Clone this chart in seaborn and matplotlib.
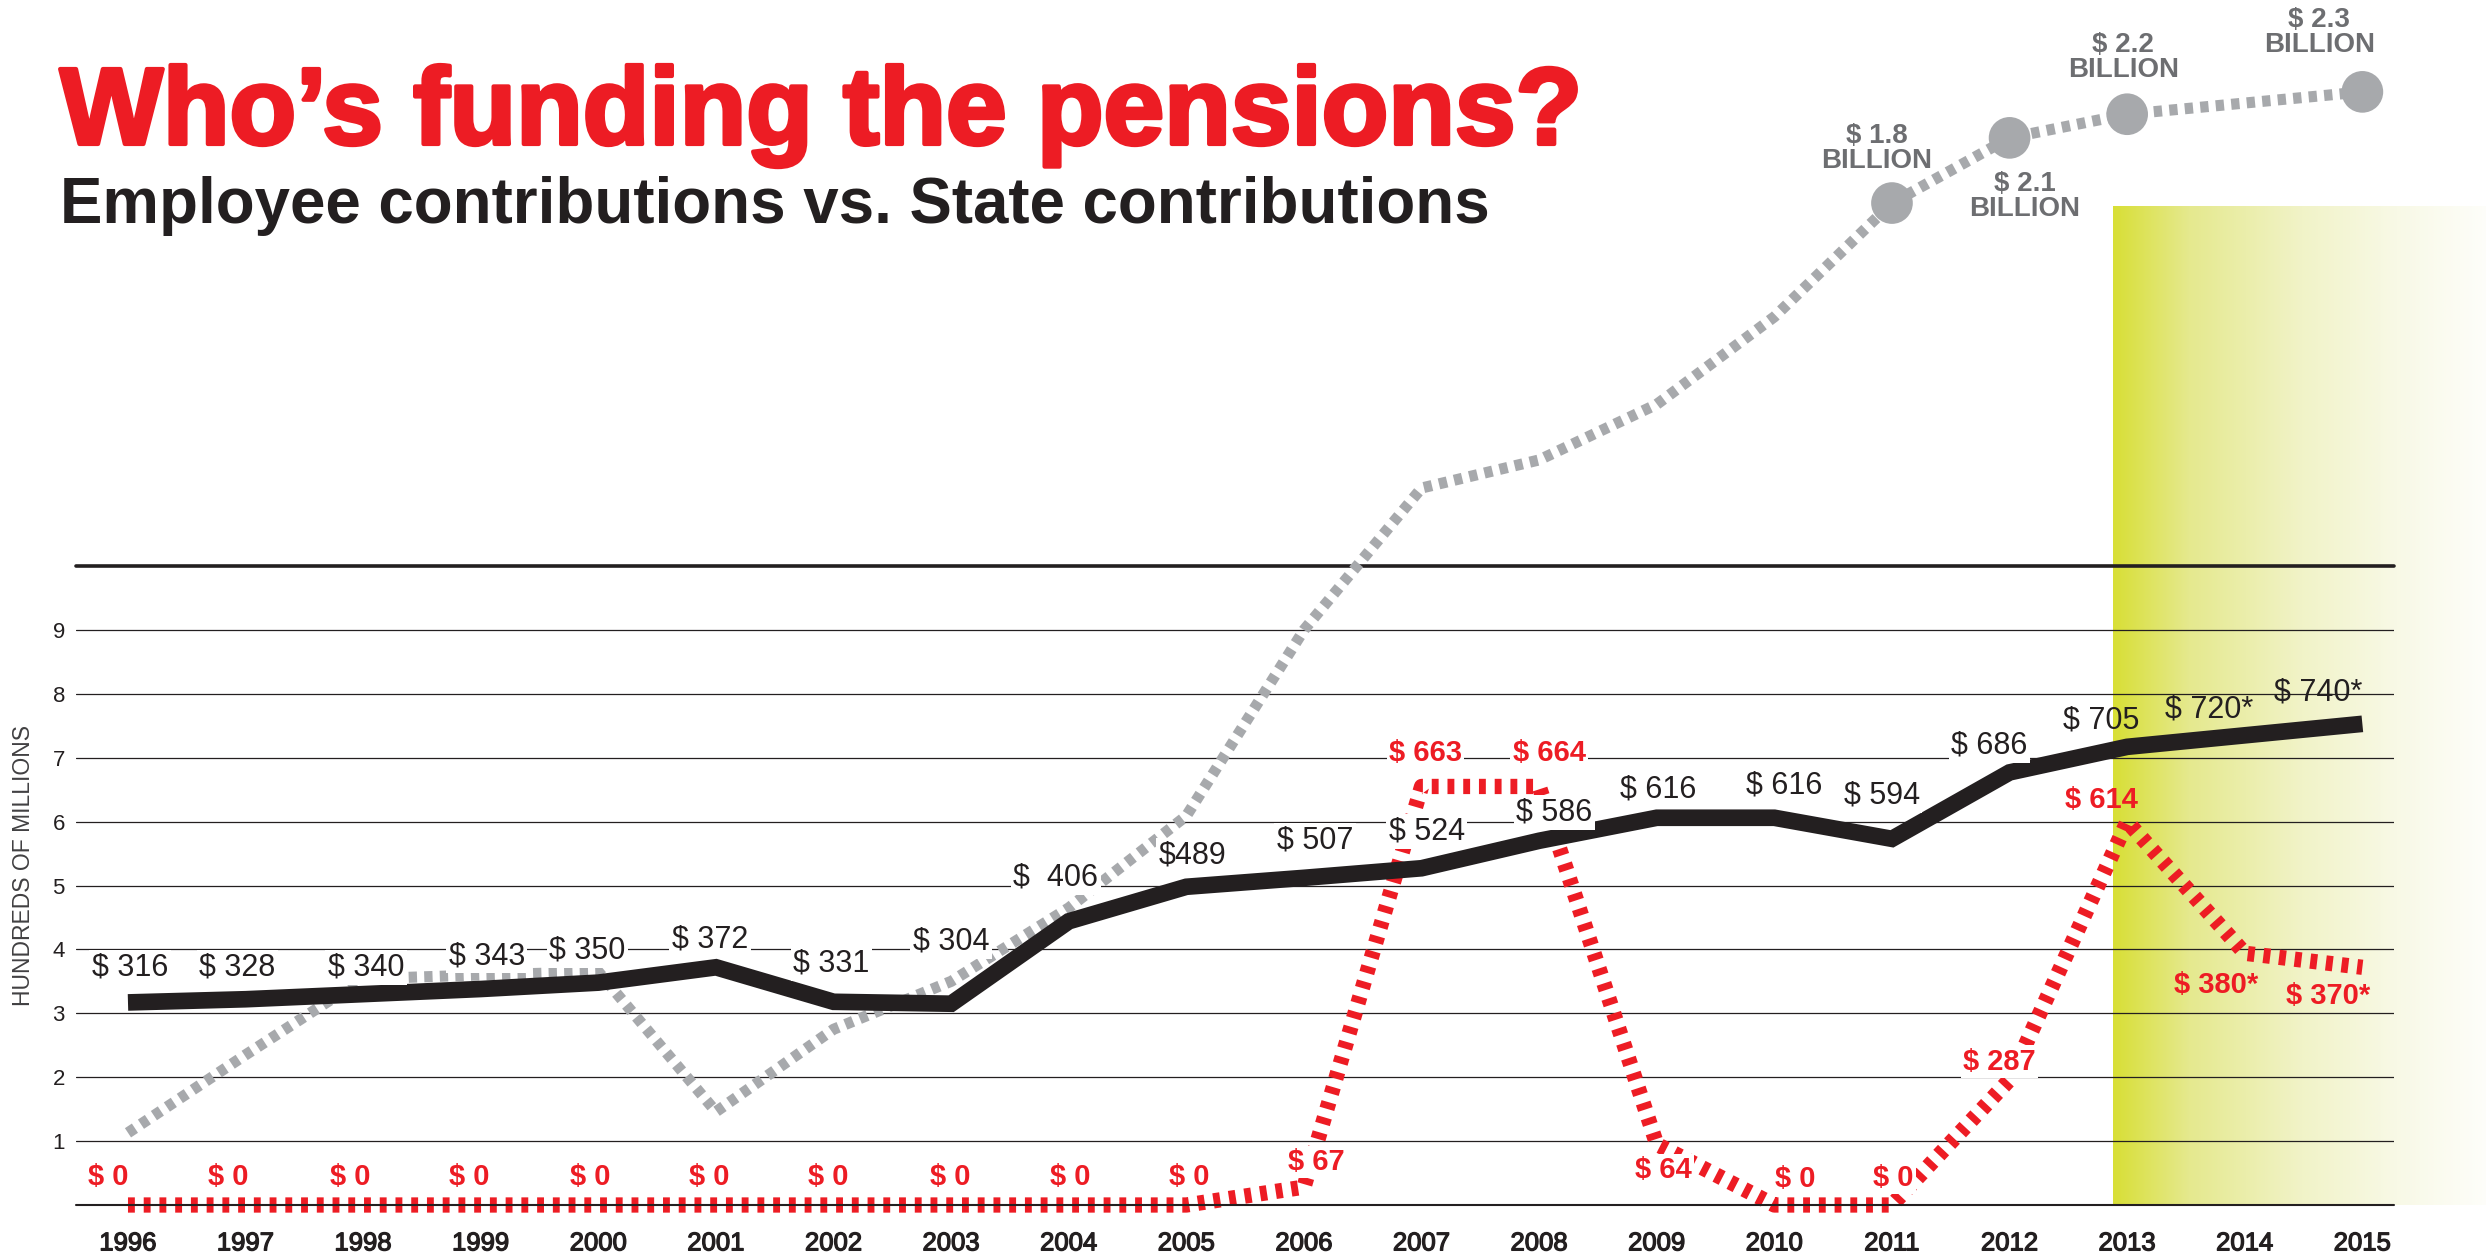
import numpy as np
import pandas as pd
import matplotlib
matplotlib.use("Agg")
import matplotlib.pyplot as plt
import matplotlib.patheffects as pe
from matplotlib.colors import LinearSegmentedColormap
import seaborn as sns

# ---------------- data (hundreds of millions) ----------------
years = list(range(1996, 2016))
employee = [3.17, 3.22, 3.30, 3.38, 3.48, 3.72, 3.18, 3.15, 4.44, 4.98,
            5.12, 5.27, 5.70, 6.06, 6.06, 5.73, 6.77, 7.17, 7.35, 7.53]
employee_labels = ["$ 316", "$ 328", "$ 340", "$ 343", "$ 350", "$ 372", "$ 331",
                   "$ 304", "$  406", "$489", "$ 507", "$ 524", "$ 586", "$ 616",
                   "$ 616", "$ 594", "$ 686", "$ 705", "$ 720*", "$ 740*"]
state = [0, 0, 0, 0, 0, 0, 0, 0, 0, 0,
         0.28, 6.55, 6.55, 0.95, 0, 0, 1.96, 6.0, 3.94, 3.72]
state_labels = ["$ 0"] * 10 + ["$ 67", "$ 663", "$ 664", "$ 64", "$ 0", "$ 0",
                               "$ 287", "$ 614", "$ 380*", "$ 370*"]
total = [1.13, 2.35, 3.54, 3.60, 3.65, 1.46, 2.75, 3.50, 4.65, 6.09,
         9.00, 11.22, 11.66, 12.53, 13.90, 15.68, 16.70, 17.07, np.nan, 17.42]
total_label_years = [2011, 2012, 2013, 2015]
total_labels = ["$ 1.8\nBILLION", "$ 2.1\nBILLION", "$ 2.2\nBILLION", "$ 2.3\nBILLION"]
y_ticks = [1, 2, 3, 4, 5, 6, 7, 8, 9]
highlight_from = 2013  # first projected / highlighted year

title = "Who\u2019s funding the pensions?"
subtitle = "Employee contributions vs. State contributions"
y_title = "HUNDREDS OF MILLIONS"

# label offsets (pixels) relative to their data point
emp_off = [(2, 35), (-8, 32), (3, 27), (6, 33), (-11, 32), (-6, 28), (-2, 38), (0, 62),
           (-13, 44), (6, 31), (11, 37), (5, 37), (15, 28), (1, 28), (10, 32), (-10, 43),
           (-20, 27), (-26, 26), (-36, 26), (-44, 31)]
state_off = [(-20, 28), (-17, 28), (-13, 28), (-12, 28), (-8, 28), (-7, 28), (-5, 28),
             (-1, 28), (1, 28), (3, 28), (12, 25), (4, 33), (10, 33), (7, -26), (21, 26),
             (1, 27), (-10, 18), (-26, 22), (-29, -32), (-34, -29)]
total_off = [(-15, 55), (15, -59), (-4, 57), (-43, 59)]

df = pd.DataFrame({"year": years, "employee": employee, "state": state, "total": total})

# ---------------- style ----------------
sns.set_theme(style="white")
plt.rcParams["font.family"] = ["Liberation Sans", "DejaVu Sans"]

BLACK = "#231f20"
RED = "#ed1c24"
GRAY = "#a7a9ac"
GRAYTXT = "#6d6e71"

W, H = 2486, 1260
fig = plt.figure(figsize=(W / 100, H / 100), dpi=100)
ax = fig.add_axes([76 / W, 1 - 1205 / H, (2394 - 76) / W, (1205 - 566) / H])
ax.set_facecolor("none")
PX = 0.72  # points per pixel at dpi 100

# gradient highlight for projected years
cmap = LinearSegmentedColormap.from_list(
    "hl", [(0, "#d8df36"), (0.2, "#e5e98e"), (0.5, "#f1f3c8"), (0.75, "#f8f9e6"), (1, "#fefefb")])
grad = np.linspace(0, 1, 256).reshape(1, -1)
ax.imshow(grad, extent=[2012.88, 2016.10, 0, 15.63], aspect="auto", cmap=cmap,
          zorder=0, clip_on=False, interpolation="bilinear")

# grid lines
for v in y_ticks:
    ax.axhline(v, color=BLACK, lw=0.9, zorder=1)
ax.axhline(10, color=BLACK, lw=2.6, zorder=1, clip_on=False)

# series
sns.lineplot(data=df, x="year", y="total", ax=ax, color=GRAY, linewidth=8,
             linestyle=(0, (0.75, 0.65)), dash_capstyle="butt", clip_on=False,
             zorder=3, errorbar=None)
sns.lineplot(data=df, x="year", y="state", ax=ax, color=RED, linewidth=11,
             linestyle=(0, (0.45, 0.58)), dash_capstyle="butt", clip_on=False,
             zorder=4, errorbar=None)
sns.lineplot(data=df, x="year", y="employee", ax=ax, color=BLACK, linewidth=12,
             solid_capstyle="butt", solid_joinstyle="miter", zorder=5, errorbar=None)
mk = df[df["year"].isin(total_label_years)]
sns.scatterplot(data=mk, x="year", y="total", ax=ax, s=900, color=GRAY,
                edgecolor="none", clip_on=False, zorder=6, legend=False)
ax.axhline(0, color=BLACK, lw=1.5, zorder=7, clip_on=False)

# labels (white knock-out boxes outside the highlighted area)
def knock(yr):
    return dict(boxstyle="square,pad=0.08", fc="white", ec="none") if yr < highlight_from else None

for yr, v, t, (dx, dy) in zip(years, employee, employee_labels, emp_off):
    ax.annotate(t, (yr, v), xytext=(dx * PX, dy * PX), textcoords="offset points",
                ha="center", va="center", fontsize=22, color=BLACK, bbox=knock(yr),
                zorder=9, annotation_clip=False)
for yr, v, t, (dx, dy) in zip(years, state, state_labels, state_off):
    ax.annotate(t, (yr, v), xytext=(dx * PX, dy * PX), textcoords="offset points",
                ha="center", va="center", fontsize=21, fontweight="bold", color=RED,
                bbox=knock(yr), zorder=9, annotation_clip=False)
for yr, t, (dx, dy) in zip(total_label_years, total_labels, total_off):
    v = df.loc[df["year"] == yr, "total"].iloc[0]
    ax.annotate(t, (yr, v), xytext=(dx * PX, dy * PX), textcoords="offset points",
                ha="center", va="center", fontsize=20, fontweight="bold", color=GRAYTXT,
                linespacing=0.95, zorder=9, annotation_clip=False)

# axes
ax.set_xlim(1995.558, 2015.269)
ax.set_ylim(0, 10)
ax.set_xticks(years)
ax.set_xticklabels([str(y) for y in years], fontsize=18.5, color=BLACK,
                   path_effects=[pe.withStroke(linewidth=0.9, foreground=BLACK)])
ax.set_yticks(y_ticks)
ax.set_yticklabels([str(v) for v in y_ticks], fontsize=16, color=BLACK)
ax.tick_params(axis="x", length=0, pad=19)
ax.tick_params(axis="y", length=0, pad=8)
ax.set_xlabel("")
ax.set_ylabel("")
for s in ax.spines.values():
    s.set_visible(False)

# titles
fig.text(60 / W, 1 - 144 / H, title, fontsize=78.5, fontweight="bold", color=RED,
         va="baseline", path_effects=[pe.withStroke(linewidth=3, foreground=RED)])
fig.text(60 / W, 1 - 223 / H, subtitle, fontsize=45.8, fontweight="bold", color=BLACK,
         va="baseline")
fig.text(24 / W, 1 - 866 / H, y_title, rotation=90, fontsize=16.5, color="#414042",
         ha="center", va="center")

fig.savefig("out.png", dpi=100)
